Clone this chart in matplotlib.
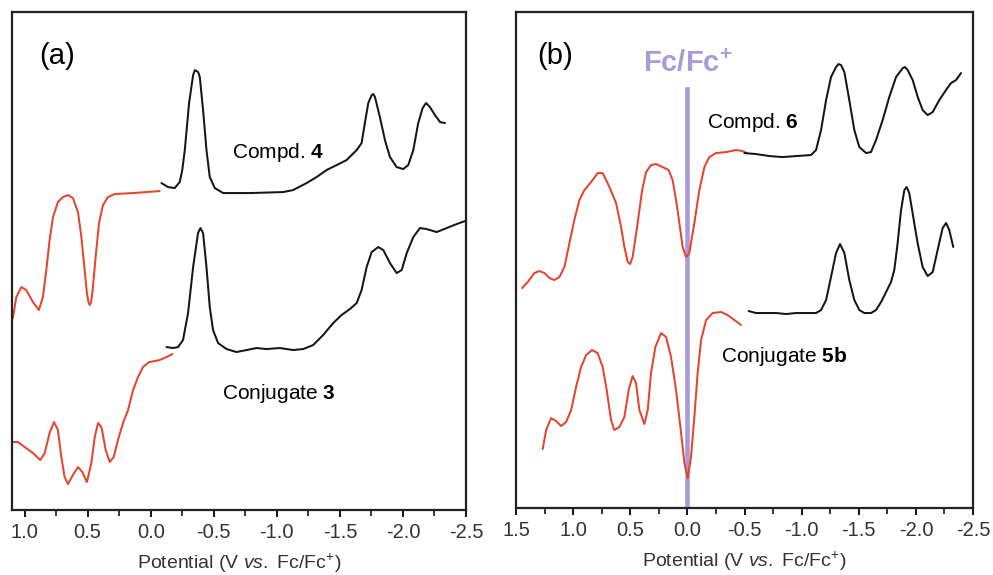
import numpy as np
import matplotlib
matplotlib.use("Agg")
import matplotlib.pyplot as plt
from matplotlib.ticker import MultipleLocator

plt.rcParams['font.family'] = ['Liberation Sans', 'DejaVu Sans']
plt.rcParams['mathtext.fontset'] = 'custom'
plt.rcParams['mathtext.rm'] = 'Liberation Sans'
plt.rcParams['mathtext.it'] = 'Liberation Sans:italic'
plt.rcParams['mathtext.bf'] = 'Liberation Sans:bold'

RED = '#e3452f'
BLACK = '#151515'
LAVENDER = '#a99bd6'

# ---- panel (a): potentials in V vs Fc/Fc+, current in arbitrary units ----
a_red4_v = [1.093, 1.066, 1.026, 0.987, 0.934, 0.887, 0.855, 0.828, 0.802, 0.775,
            0.736, 0.696, 0.656, 0.617, 0.577, 0.55, 0.524, 0.506, 0.494, 0.484, 0.473, 0.463,
            0.437, 0.41, 0.379, 0.339, 0.286, 0.14, -0.071]
a_red4_i = [19.2, 21.3, 22.3, 22.0, 20.8, 20.0, 21.3, 24.0, 27.0, 29.3,
            30.8, 31.3, 31.5, 31.2, 29.8, 27.3, 24.0, 21.7, 20.8, 20.5, 20.8, 21.7,
            25.3, 28.7, 30.5, 31.3, 31.6, 31.7, 31.9]

a_blk4_v = [-0.085, -0.137, -0.19, -0.23, -0.25, -0.27, -0.304, -0.336, -0.35, -0.363, -0.376, -0.389, -0.415,
            -0.442, -0.468, -0.508, -0.574, -0.786, -1.05, -1.129, -1.236, -1.315, -1.394,
            -1.474, -1.553, -1.633, -1.672, -1.698, -1.725, -1.752, -1.765, -1.778, -1.817, -1.857,
            -1.897, -1.95, -2.002, -2.042, -2.082, -2.121, -2.156, -2.183, -2.214, -2.254,
            -2.294, -2.333]
a_blk4_i = [32.7, 32.3, 32.2, 32.8, 34.0, 36.0, 40.7, 43.5, 44.0, 43.9, 43.8, 43.3, 40.0,
            36.0, 33.3, 32.2, 31.7, 31.7, 31.8, 32.0, 32.7, 33.3, 34.0,
            34.5, 35.0, 36.0, 36.7, 38.7, 40.7, 41.5, 41.6, 41.3, 39.3, 37.0,
            35.3, 34.3, 34.1, 34.5, 36.0, 38.7, 40.2, 40.7, 40.3, 39.5,
            38.8, 38.7]

a_red3_v = [1.098, 1.053, 1.0, 0.934, 0.875, 0.841, 0.802, 0.767, 0.736, 0.709,
            0.683, 0.656, 0.617, 0.577, 0.542, 0.506, 0.471, 0.444, 0.418, 0.391,
            0.357, 0.325, 0.294, 0.26, 0.22, 0.18, 0.14, 0.101, 0.061, 0.013,
            -0.032, -0.071, -0.125, -0.172]
a_red3_i = [6.8, 6.8, 6.3, 5.7, 5.0, 5.7, 7.7, 8.8, 8.0, 5.3,
            3.3, 2.6, 3.5, 4.3, 3.8, 2.8, 4.7, 7.3, 8.7, 8.3,
            6.0, 4.8, 5.3, 7.0, 8.7, 10.0, 12.0, 13.3, 14.3, 14.8,
            14.9, 15.0, 15.3, 15.6]

a_blk3_v = [-0.125, -0.177, -0.217, -0.256, -0.296, -0.336, -0.375, -0.394, -0.415, -0.442,
            -0.468, -0.494, -0.534, -0.601, -0.68, -0.76, -0.839, -0.918, -1.024, -1.129,
            -1.209, -1.288, -1.367, -1.447, -1.513, -1.579, -1.633, -1.672, -1.712, -1.752,
            -1.804, -1.844, -1.897, -1.95, -1.99, -2.03, -2.082, -2.135, -2.188, -2.267,
            -2.347, -2.426, -2.492]
a_blk3_i = [16.3, 16.2, 16.3, 17.0, 19.7, 24.3, 27.7, 28.2, 27.7, 24.3,
            20.3, 18.0, 16.7, 16.1, 15.8, 16.0, 16.2, 16.1, 16.2, 16.0,
            16.1, 16.5, 17.5, 18.7, 19.5, 20.1, 20.7, 22.0, 24.3, 25.8,
            26.3, 26.0, 24.7, 23.7, 24.0, 25.7, 27.3, 28.2, 28.1, 27.8,
            28.2, 28.6, 28.9]

# ---- panel (b) ----
b_red6_v = [1.446, 1.397, 1.339, 1.295, 1.251, 1.207, 1.164, 1.12, 1.076, 1.032,
            0.989, 0.945, 0.901, 0.843, 0.785, 0.741, 0.682, 0.624, 0.58, 0.551,
            0.522, 0.501, 0.479, 0.435, 0.396, 0.361, 0.318, 0.274, 0.216, 0.164,
            0.129, 0.099, 0.07, 0.041, 0.011, -0.017, -0.061, -0.105, -0.149, -0.192,
            -0.251, -0.339, -0.426, -0.484, -0.519]
b_red6_i = [22.0, 22.6, 23.5, 23.7, 23.5, 23.0, 22.8, 23.1, 24.1, 26.5,
            28.8, 30.8, 31.8, 32.6, 33.5, 33.5, 32.1, 30.5, 28.1, 26.1,
            24.6, 24.4, 25.1, 28.5, 31.8, 33.6, 34.3, 34.4, 34.1, 33.8,
            32.8, 30.8, 28.5, 26.1, 25.1, 25.5, 28.5, 31.8, 34.1, 35.1,
            35.5, 35.6, 35.8, 35.7, 35.5]

b_blk6_v = [-0.499, -0.601, -0.717, -0.834, -0.951, -1.082, -1.126, -1.17, -1.214, -1.257,
            -1.301, -1.323, -1.345, -1.374, -1.417, -1.461, -1.505, -1.564, -1.607, -1.651, -1.709,
            -1.767, -1.826, -1.885, -1.905, -1.928, -1.972, -2.016, -2.059, -2.103, -2.147, -2.205,
            -2.263, -2.307, -2.351, -2.395]
b_blk6_i = [35.5, 35.4, 35.2, 35.1, 35.2, 35.3, 35.8, 37.8, 40.8, 43.1,
            44.1, 44.4, 44.3, 43.6, 40.8, 37.8, 36.1, 35.5, 35.6, 36.8, 38.8,
            41.1, 43.1, 44.0, 44.1, 43.8, 42.8, 41.1, 39.8, 39.3, 39.6, 40.8,
            41.8, 42.5, 42.8, 43.5]

b_red5_v = [1.266, 1.236, 1.192, 1.149, 1.105, 1.061, 1.017, 0.974, 0.93, 0.886,
            0.834, 0.785, 0.741, 0.706, 0.668, 0.639, 0.595, 0.551, 0.514, 0.479,
            0.449, 0.42, 0.376, 0.347, 0.318, 0.28, 0.23, 0.186, 0.143, 0.099,
            0.055, 0.026, -0.003, -0.032, -0.061, -0.09, -0.12, -0.164, -0.221, -0.295,
            -0.353, -0.411, -0.47]
b_red5_i = [5.9, 7.8, 9.0, 8.7, 8.2, 8.6, 9.8, 12.1, 14.1, 15.3,
            15.8, 15.5, 14.1, 11.8, 8.8, 7.8, 8.1, 9.1, 11.8, 13.2,
            12.5, 9.8, 8.4, 9.8, 13.5, 16.1, 17.5, 17.1, 15.1, 11.8,
            7.5, 4.5, 3.0, 5.1, 9.1, 13.5, 16.8, 18.8, 19.5, 19.6,
            19.3, 18.8, 18.3]

b_blk5_v = [-0.536, -0.601, -0.689, -0.776, -0.864, -0.951, -1.039, -1.126, -1.17, -1.214,
            -1.257, -1.301, -1.336, -1.374, -1.417, -1.461, -1.505, -1.549, -1.607, -1.651,
            -1.695, -1.739, -1.782, -1.811, -1.84, -1.87, -1.899, -1.919, -1.942, -1.971,
            -2.015, -2.059, -2.103, -2.147, -2.19, -2.234, -2.264, -2.292, -2.327]
b_blk5_i = [19.7, 19.5, 19.5, 19.5, 19.4, 19.5, 19.5, 19.5, 19.8, 20.8,
            23.1, 25.5, 26.4, 25.5, 22.8, 20.8, 19.8, 19.5, 19.5, 19.8,
            20.6, 21.6, 22.6, 23.8, 26.5, 29.8, 31.8, 32.1, 31.5, 29.5,
            26.5, 24.1, 23.2, 23.6, 25.8, 28.0, 28.5, 27.8, 26.1]

fc_line_top = 41.9

fig = plt.figure(figsize=(9.93, 5.75), dpi=100)
ax1 = fig.add_axes([0.0121, 0.113, 0.4572, 0.866])
ax2 = fig.add_axes([0.5196, 0.1165, 0.4603, 0.8625])

def style(ax, xmin, ymax):
    ax.set_xlim(xmin, -2.5)
    ax.set_ylim(0, ymax)
    ax.set_yticks([])
    ax.xaxis.set_major_locator(MultipleLocator(0.5))
    ax.xaxis.set_minor_locator(MultipleLocator(0.25))
    ax.tick_params(axis='x', which='major', direction='out', length=5, width=1.3,
                   labelsize=14.5, labelcolor='#333333', pad=4)
    ax.tick_params(axis='x', which='minor', direction='out', length=4, width=1.1)
    ax.xaxis.set_major_formatter(matplotlib.ticker.FuncFormatter(lambda v, p: f"{v:.1f}"))
    for s in ax.spines.values():
        s.set_linewidth(1.6)
        s.set_color('#222222')
    ax.set_xlabel(r'Potential (V $\it{vs.}$ Fc/Fc$^{+}$)', fontsize=14, color='#333333', labelpad=7)

style(ax1, 1.10, 49.8)
style(ax2, 1.5, 49.6)

kw = dict(lw=1.45, solid_joinstyle='round', solid_capstyle='round')
ax1.plot(a_red4_v, a_red4_i, color=RED, **kw)
ax1.plot(a_blk4_v, a_blk4_i, color=BLACK, **kw)
ax1.plot(a_red3_v, a_red3_i, color=RED, **kw)
ax1.plot(a_blk3_v, a_blk3_i, color=BLACK, **kw)

ax1.text(0.746, 45.4, '(a)', fontsize=21, ha='center', va='center')
ax1.text(-1.01, 35.8, r'Compd. $\mathbf{4}$', fontsize=15, ha='center', va='center')
ax1.text(-1.02, 11.7, r'Conjugate $\mathbf{3}$', fontsize=15, ha='center', va='center')

ax2.plot([0, 0], [0, fc_line_top], color=LAVENDER, lw=3.3, zorder=1)
ax2.plot(b_red6_v, b_red6_i, color=RED, zorder=2, **kw)
ax2.plot(b_blk6_v, b_blk6_i, color=BLACK, zorder=2, **kw)
ax2.plot(b_red5_v, b_red5_i, color=RED, zorder=2, **kw)
ax2.plot(b_blk5_v, b_blk5_i, color=BLACK, zorder=2, **kw)

ax2.text(1.155, 45.2, '(b)', fontsize=21, ha='center', va='center')
ax2.text(0.0, 44.4, r'Fc/Fc$^{\mathbf{+}}$', fontsize=21, fontweight='bold',
         color=LAVENDER, ha='center', va='center')
ax2.text(-0.57, 38.6, r'Compd. $\mathbf{6}$', fontsize=15, ha='center', va='center')
ax2.text(-0.85, 15.2, r'Conjugate $\mathbf{5b}$', fontsize=15, ha='center', va='center')

fig.savefig('out.png', dpi=100)
